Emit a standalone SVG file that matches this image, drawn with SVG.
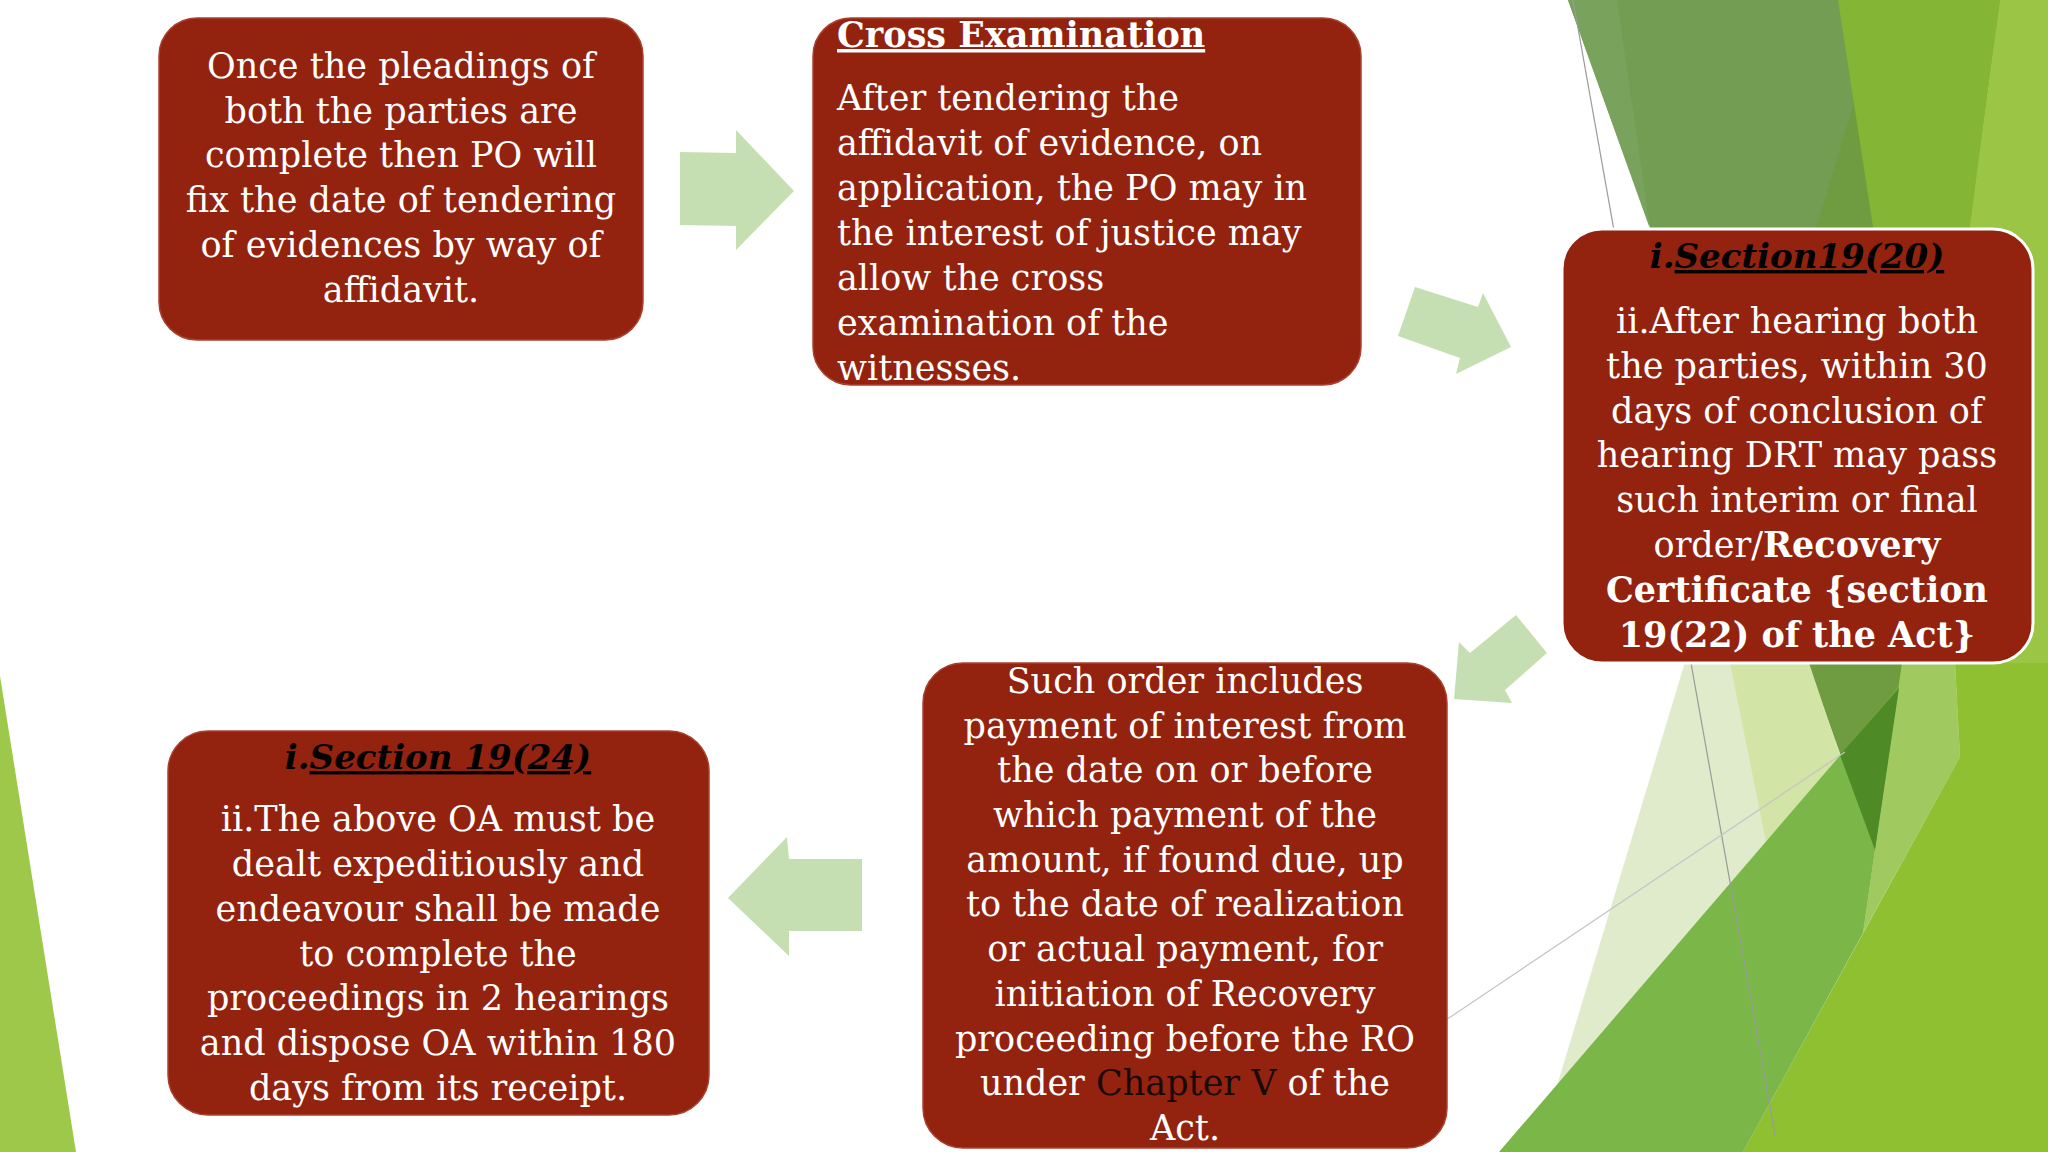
<svg xmlns="http://www.w3.org/2000/svg" width="2048" height="1152" viewBox="0 0 2048 1152">
<style>
.box{fill:#93230f;stroke:#a9412f;stroke-width:1.5}
.t{font-family:'DejaVu Serif','Liberation Serif',serif;font-size:35px;fill:#ffffff}
.c{text-anchor:middle}
.b{font-weight:bold}
.hd{font-weight:bold;font-style:italic;fill:#000000;font-size:34px}
.u{text-decoration:underline}
.arrow{fill:#c6dfb2}
.gl{stroke:#9a9a9a;stroke-width:1.2;fill:none}
</style>
<rect width="2048" height="1152" fill="#ffffff"/>
<g id="background">
  <polygon points="0,676 76,1152 0,1152" fill="#9dc84a"/>
  <polygon points="1568,0 2001,0 1875,850" fill="#739d52"/>
  <polygon points="1568,0 1617,0 1650,229" fill="#79a35d"/>
  <polygon points="1885,0 2048,0 2048,1152 1537,1152" fill="rgb(100,155,0)" fill-opacity="0.2"/>
  <polygon points="1838,0 2000,0 1926,570" fill="#84b534"/>
  <polygon points="2000,0 2048,0 2048,663 1912,663" fill="#9bc544"/>
  <polygon points="1730,663 1809,663 1840,755 1766,842" fill="#d2e5a6"/>
  <polygon points="1902,663 1955,663 1960,757 1863,933 1875,850" fill="#a0ca5f"/>
  <polygon points="1955,663 2048,663 2048,1152 1743,1152 1960,757" fill="#8fc031"/>
  <polygon points="1898,688 1875,850 1863,933 1743,1152 1499,1152" fill="#7ab648"/>
  <polygon points="1840,755 1899,688 1875,850" fill="#4e8a26"/>
  <line class="gl" x1="1573" y1="0" x2="1775" y2="1135"/>
  <line x1="1440" y1="1024" x2="1845" y2="752" stroke="#c4c4c4" stroke-width="1.2"/>
</g>
<g id="connectors">
  <polygon class="arrow" points="680,152 736,153 736,130 794,191 736,250 736,226 680,225"/>
  <polygon class="arrow" points="1415,287 1478,307 1483,293 1511,347 1456,374 1460,358 1398,336"/>
  <polygon class="arrow" points="1516,615 1547,653 1505,690 1512,703 1454,699 1459,642 1470,653"/>
  <polygon class="arrow" points="862,859 789,859 787,837 728,898 789,956 789,931 862,931"/>
</g>
<g id="node1">
  <rect class="box" x="159" y="18" width="484" height="322" rx="38"/>
  <text class="t c" x="401" y="78">Once the pleadings of</text>
  <text class="t c" x="401" y="123">both the parties are</text>
  <text class="t c" x="401" y="167">complete then PO will</text>
  <text class="t c" x="401" y="212">fix the date of tendering</text>
  <text class="t c" x="401" y="257">of evidences by way of</text>
  <text class="t c" x="401" y="302">affidavit.</text>
</g>
<g id="node2">
  <rect class="box" x="813" y="18" width="548" height="367" rx="38"/>
  <text class="t b u" x="837" y="47">Cross Examination</text>
  <text class="t" x="837" y="110">After tendering the</text>
  <text class="t" x="837" y="155">affidavit of evidence, on</text>
  <text class="t" x="837" y="200">application, the PO may in</text>
  <text class="t" x="837" y="245">the interest of justice may</text>
  <text class="t" x="837" y="290">allow the cross</text>
  <text class="t" x="837" y="335">examination of the</text>
  <text class="t" x="837" y="380">witnesses.</text>
</g>
<g id="node3">
  <rect x="1562" y="229" width="471" height="434" rx="40" fill="#93230f" stroke="#ffffff" stroke-width="3"/>
  <text class="t c hd" x="1797" y="268">i.<tspan class="u">Section19(20)</tspan></text>
  <text class="t c" x="1797" y="333">ii.After hearing both</text>
  <text class="t c" x="1797" y="378">the parties, within 30</text>
  <text class="t c" x="1797" y="423">days of conclusion of</text>
  <text class="t c" x="1797" y="467">hearing DRT may pass</text>
  <text class="t c" x="1797" y="512">such interim or final</text>
  <text class="t c" x="1797" y="557">order/<tspan class="b">Recovery</tspan></text>
  <text class="t c b" x="1797" y="602">Certificate {section</text>
  <text class="t c b" x="1797" y="647">19(22) of the Act}</text>
</g>
<g id="node4">
  <rect class="box" x="923" y="663" width="524" height="485" rx="40"/>
  <text class="t c" x="1185" y="693">Such order includes</text>
  <text class="t c" x="1185" y="738">payment of interest from</text>
  <text class="t c" x="1185" y="782">the date on or before</text>
  <text class="t c" x="1185" y="827">which payment of the</text>
  <text class="t c" x="1185" y="872">amount, if found due, up</text>
  <text class="t c" x="1185" y="916">to the date of realization</text>
  <text class="t c" x="1185" y="961">or actual payment, for</text>
  <text class="t c" x="1185" y="1006">initiation of Recovery</text>
  <text class="t c" x="1185" y="1051">proceeding before the RO</text>
  <text class="t c" x="1185" y="1095">under <tspan fill="#1a0a06">Chapter V</tspan> of the</text>
  <text class="t c" x="1185" y="1140">Act.</text>
</g>
<g id="node5">
  <rect class="box" x="168" y="731" width="541" height="384" rx="40"/>
  <text class="t c hd" x="438" y="769">i.<tspan class="u">Section 19(24)</tspan></text>
  <text class="t c" x="438" y="831">ii.The above OA must be</text>
  <text class="t c" x="438" y="876">dealt expeditiously and</text>
  <text class="t c" x="438" y="921">endeavour shall be made</text>
  <text class="t c" x="438" y="966">to complete the</text>
  <text class="t c" x="438" y="1010">proceedings in 2 hearings</text>
  <text class="t c" x="438" y="1055">and dispose OA within 180</text>
  <text class="t c" x="438" y="1100">days from its receipt.</text>
</g>
</svg>
